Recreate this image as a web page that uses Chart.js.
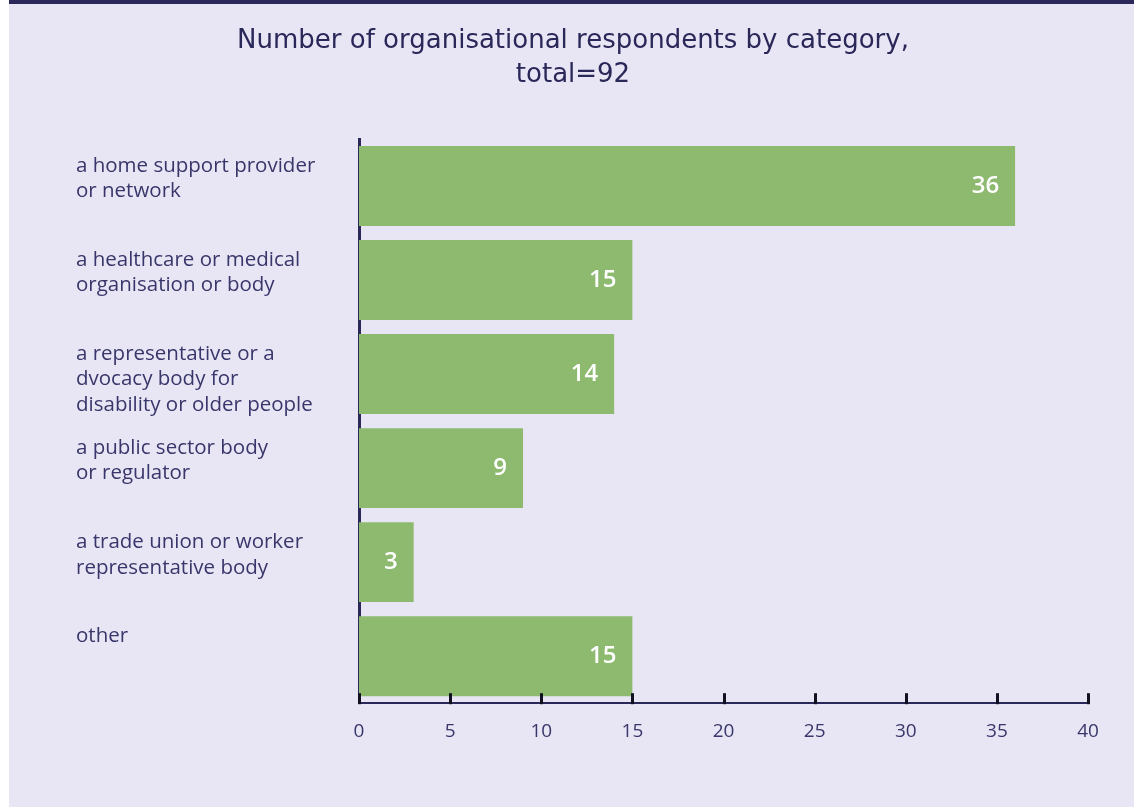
<!DOCTYPE html>
<html>
<head>
<meta charset="utf-8">
<script src="https://cdn.jsdelivr.net/npm/chart.js@4/dist/chart.umd.min.js"></script>
<style>
  html, body { margin: 0; padding: 0; background: #ffffff; }
  #wrap { width: 1134px; height: 807px; position: relative; }
</style>
</head>
<body>
<div id="wrap"><canvas id="chart" width="1134" height="807"></canvas></div>
<script>
// Respondent categories (each entry is one label, split into its lines)
const categories = [
  ["a home support provider", "or network"],
  ["a healthcare or medical", "organisation or body"],
  ["a representative or a", "dvocacy body for", "disability or older people"],
  ["a public sector body", "or regulator"],
  ["a trade union or worker", "representative body"],
  ["other"]
];
const respondents = [36, 15, 14, 9, 3, 15];
const xTicks = [0, 5, 10, 15, 20, 25, 30, 35, 40];
const titleLines = ["Number of organisational respondents by category,", "total=92"];

const NAVY = "#2a2759";
const TEXT = "#38366a";
const BAR = "#8dba6f";
const PANEL = "#e8e6f4";

// Page panel: white margin on the left, lavender body, navy strip along the top
const panelPlugin = {
  id: "panel",
  beforeDraw(chart) {
    const { ctx, width, height } = chart;
    ctx.save();
    ctx.fillStyle = "#ffffff";
    ctx.fillRect(0, 0, width, height);
    ctx.fillStyle = PANEL;
    ctx.fillRect(9, 0, width - 9, height);
    ctx.fillStyle = NAVY;
    ctx.fillRect(9, 0, width - 9, 4);
    // two-line heading centred on the panel
    ctx.font = "26px 'DejaVu Sans'";
    ctx.fillStyle = NAVY;
    ctx.textAlign = "center";
    ctx.textBaseline = "middle";
    titleLines.forEach((line, k) => {
      ctx.fillText(line, 573, 41 + k * 34.5);
    });
    ctx.restore();
  }
};

// Category labels, left aligned and set near the top of each bar band
const categoryLabelPlugin = {
  id: "categoryLabels",
  afterDraw(chart) {
    const { ctx } = chart;
    const meta = chart.getDatasetMeta(0);
    ctx.save();
    ctx.font = "20.5px 'Open Sans'";
    ctx.fillStyle = TEXT;
    ctx.textAlign = "left";
    ctx.textBaseline = "middle";
    categories.forEach((lines, i) => {
      const bar = meta.data[i];
      const top = bar.y - bar.height / 2;
      lines.forEach((line, k) => {
        ctx.fillText(line, 76, top + 20 + k * 25.5);
      });
    });
    ctx.restore();
  }
};

// Value labels inside the end of each bar, plus the inward x-axis tick marks
const valueLabelPlugin = {
  id: "valueLabels",
  afterDatasetsDraw(chart) {
    const { ctx } = chart;
    const meta = chart.getDatasetMeta(0);
    const x = chart.scales.x;
    ctx.save();
    ctx.font = "600 24px 'Open Sans'";
    ctx.fillStyle = "#ffffff";
    ctx.textAlign = "right";
    ctx.textBaseline = "middle";
    meta.data.forEach((bar, i) => {
      ctx.fillText(String(respondents[i]), bar.x - 16, bar.y);
    });
    // tick marks rising from the axis line
    const bottom = chart.chartArea.bottom;
    ctx.strokeStyle = "#111122";
    ctx.lineWidth = 3;
    xTicks.forEach(v => {
      const px = Math.round(x.getPixelForValue(v)) + 0.5;
      ctx.beginPath();
      ctx.moveTo(px, bottom - 10);
      ctx.lineTo(px, bottom + 1);
      ctx.stroke();
    });
    ctx.restore();
  }
};

new Chart(document.getElementById("chart"), {
  type: "bar",
  data: {
    labels: categories,
    datasets: [{
      data: respondents,
      backgroundColor: BAR,
      borderWidth: 0,
      categoryPercentage: 0.85,
      barPercentage: 1.0
    }]
  },
  options: {
    indexAxis: "y",
    responsive: false,
    animation: false,
    layout: { padding: { left: 359, right: 46, top: 139, bottom: 47 } },
    plugins: {
      legend: { display: false },
      tooltip: { enabled: false },
      title: { display: false }
    },
    scales: {
      x: {
        min: 0,
        max: 40,
        afterBuildTicks(scale) { scale.ticks = xTicks.map(v => ({ value: v })); },
        grid: { display: false, drawTicks: false },
        border: { display: true, color: NAVY, width: 2 },
        ticks: {
          color: TEXT,
          padding: 17,
          font: { family: "'Open Sans'", size: 19 }
        }
      },
      y: {
        grid: { display: false, drawTicks: false },
        border: { display: true, color: NAVY, width: 3 },
        ticks: { display: false }
      }
    }
  },
  plugins: [panelPlugin, categoryLabelPlugin, valueLabelPlugin]
});
</script>
</body>
</html>
